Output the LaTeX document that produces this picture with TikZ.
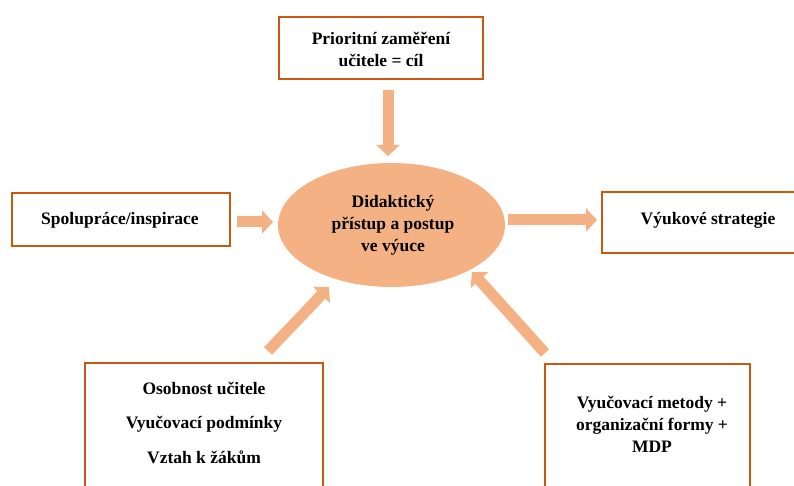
\documentclass[tikz,border=0pt]{standalone}
\usepackage{fontspec}
\setmainfont{Liberation Serif}
\usepackage{tikz}
\usetikzlibrary{arrows.meta,shapes.geometric}

\definecolor{boxline}{RGB}{197,90,17}
\definecolor{peach}{RGB}{244,177,131}

\tikzset{
  framebox/.style={draw=boxline, line width=2pt, fill=white, inner sep=0pt},
  boxtext/.style={align=center, inner sep=0pt, font=\fontsize{17.5}{22}\selectfont\bfseries},
  bigarrow/.style={draw=peach, line width=11pt, line cap=butt,
    -{Triangle[length=11pt,width=23pt]}},
}

\begin{document}
\begin{tikzpicture}[x=1pt,y=-1pt]
\useasboundingbox (0,0) rectangle (794,486);

%Shape: Ellipse (centre)
\node [ellipse, fill=peach, minimum width=227pt, minimum height=124pt, inner sep=0pt] (centre) at (391.5,225) {};
\node [boxtext] (centretext) at (393,225) {Didaktický\\přístup a postup\\ve výuce};

%Boxes
\node [framebox, minimum width=204pt, minimum height=62pt] (prio) at (381,48) {};
\node [boxtext] (priotext) at (381,49) {Prioritní zaměření\\učitele = cíl};

\node [framebox, minimum width=218pt, minimum height=53pt] (spol) at (121,219.5) {};
\node [boxtext] (spoltext) at (120,220) {Spolupráce/inspirace};

\node [framebox, minimum width=196pt, minimum height=61pt] (strat) at (700,222.5) {};
\node [boxtext] (strattext) at (708,220) {Výukové strategie};

\node [framebox, minimum width=238pt, minimum height=130pt] (osob) at (204,428) {};
\node [boxtext, font=\fontsize{17.5}{34.5}\selectfont\bfseries] (osobtext) at (204,422.5) {Osobnost učitele\\Vyučovací podmínky\\Vztah k žákům};

\node [framebox, minimum width=205pt, minimum height=130pt] (meto) at (647.5,429) {};
\node [boxtext] (metotext) at (652,424.5) {Vyučovací metody +\\organizační formy +\\MDP};

%Arrow ends
\coordinate (prioA) at (388,90);
\coordinate (prioB) at (388,156);
\coordinate (spolA) at (237,222);
\coordinate (spolB) at (273,222);
\coordinate (stratA) at (508,220);
\coordinate (stratB) at (597,220);
\coordinate (osobA) at (268,351);
\coordinate (osobB) at (329,287);
\coordinate (metoA) at (545,353);
\coordinate (metoB) at (472,272);

%Arrows
\draw [bigarrow] (prioA) -- (prioB);
\draw [bigarrow] (spolA) -- (spolB);
\draw [bigarrow] (stratA) -- (stratB);
\draw [bigarrow] (osobA) -- (osobB);
\draw [bigarrow] (metoA) -- (metoB);

\end{tikzpicture}
\end{document}
